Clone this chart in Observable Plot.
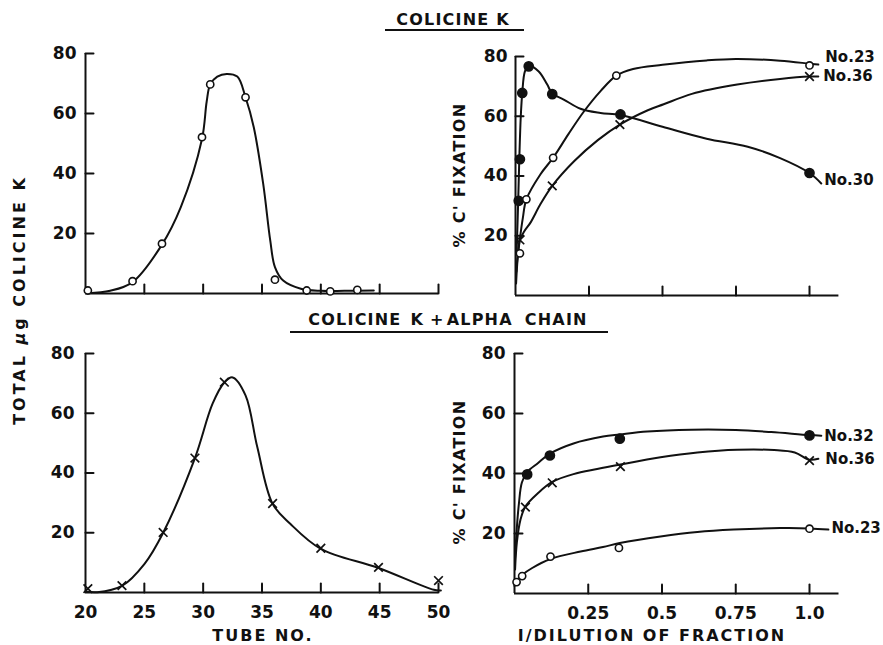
<!DOCTYPE html>
<html>
<head>
<meta charset="utf-8">
<script src="https://cdn.jsdelivr.net/npm/d3@7"></script>
<script src="https://cdn.jsdelivr.net/npm/@observablehq/plot@0.6"></script>
<style>
  html, body { margin: 0; padding: 0; background: #fff; }
  #fig { position: relative; width: 883px; height: 645px; overflow: hidden;
         font-family: "DejaVu Sans", sans-serif; font-weight: bold; color: #111; }
  #fig svg { position: absolute; left: 0; top: 0; }
  .t { position: absolute; white-space: nowrap; font-size: 16px; line-height: 1;
       transform: translate(-50%, -50%); }
  .rot { transform: translate(-50%, -50%) rotate(-90deg); }
  .ul { position: absolute; height: 2px; background: #111; }
</style>
</head>
<body>
<div id="fig">
  <div class="t" style="left:453px;top:20px;letter-spacing:1.2px;">COLICINE K</div>
  <div class="ul" style="left:385px;top:29px;width:139px;"></div>
  <div class="t" style="left:448px;top:320px;letter-spacing:1.2px;"><span>COLICINE</span><span style="margin-left:9px">K</span><span style="margin-left:6px">+</span><span style="margin-left:2px">ALPHA</span><span style="margin-left:12px">CHAIN</span></div>
  <div class="ul" style="left:290px;top:331px;width:318px;"></div>
  <div class="t rot" style="left:20px;top:300px;letter-spacing:3px;">TOTAL <span style="font-style:italic">μ</span>g COLICINE K</div>
  <div class="t rot" style="left:460px;top:175px;letter-spacing:1.3px;">% C' FIXATION</div>
  <div class="t rot" style="left:460px;top:472px;letter-spacing:1.3px;">% C' FIXATION</div>
  <div class="t" style="left:263px;top:636px;letter-spacing:2px;">TUBE NO.</div>
  <div class="t" style="left:652px;top:636px;letter-spacing:2px;">I/DILUTION OF FRACTION</div>
</div>
<script>
// ---------- axes ----------
const tubeAxis = [20, 50];
const tubeTicks = [25, 30, 35, 40, 45, 50];
const tubeTickLabels = [20, 25, 30, 35, 40, 45, 50];
const dilAxis = [0, 1.1];
const dilTicks = [0.25, 0.5, 0.75, 1.0];
const dilTickLabels = ["0.25", "0.5", "0.75", "1.0"];
const yAxis = [0, 80];
const yTicks = [20, 40, 60, 80];

// ---------- top-left: colicine K elution (open circles) ----------
const aTube = [20.2, 24.0, 26.5, 29.9, 30.6, 33.6, 36.1, 38.8, 40.8, 43.1];
const aUg   = [1.0, 4.1, 16.6, 52.1, 69.7, 65.4, 4.6, 1.0, 0.7, 1.2];
const aCurveTube = [20.2, 22.1, 24.0, 26.5, 28.1, 29.9, 30.3, 30.6, 31.2, 32.0, 32.9, 33.6, 34.3, 35.1, 35.7, 36.1, 36.8, 38.3, 40.0, 42.0, 44.5];
const aCurveUg   = [0.1, 0.9, 3.8, 16.3, 28.8, 51.5, 64.0, 69.7, 72.3, 73.2, 72.3, 65.4, 55.4, 36.6, 17.7, 8.8, 4.3, 1.6, 0.9, 0.9, 1.0];

// ---------- bottom-left: colicine K + alpha chain elution (x marks) ----------
const cTube = [20.2, 23.1, 26.6, 29.3, 31.8, 35.9, 40.0, 44.9, 50.0];
const cUg   = [1.3, 2.3, 20.1, 45.0, 70.4, 29.8, 14.8, 8.4, 4.0];
const cCurveTube = [20.0, 21.0, 23.1, 25.0, 26.6, 29.3, 30.8, 31.8, 32.5, 33.6, 34.6, 35.9, 37.4, 40.0, 44.9, 49.6, 50.2];
const cCurveUg   = [0.3, 0.1, 2.2, 9.5, 20.0, 45.0, 63.2, 70.3, 72.0, 66.0, 48.7, 29.7, 23.0, 14.6, 8.2, 0.9, 0.7];

// ---------- top-right: C' fixation, colicine K ----------
const b30Dil = [0.011, 0.015, 0.023, 0.045, 0.125, 0.357, 1.0];
const b30Fix = [31.7, 45.6, 67.8, 76.7, 67.4, 60.6, 41.0];
const b30CurveDil = [0.004, 0.009, 0.013, 0.018, 0.023, 0.032, 0.045, 0.079, 0.108, 0.125, 0.164, 0.221, 0.289, 0.357, 0.5, 0.65, 0.79, 0.9, 1.0, 1.04];
const b30CurveFix = [15, 31, 46, 60, 67.8, 75, 77, 75, 70.6, 67.6, 65.6, 62.5, 61.1, 60.4, 56.5, 52.5, 49.8, 46.0, 41.0, 37.5];

const b23Dil = [0.015, 0.037, 0.128, 0.343, 1.0];
const b23Fix = [14.1, 32.2, 46.1, 73.6, 77.0];
const b23CurveDil = [0.002, 0.007, 0.015, 0.025, 0.037, 0.085, 0.128, 0.18, 0.232, 0.29, 0.343, 0.4, 0.5, 0.65, 0.75, 0.9, 1.0, 1.03];
const b23CurveFix = [4, 12, 19, 26, 32.2, 40.6, 46.1, 54, 61.5, 68.5, 73.6, 75.8, 77.2, 78.7, 79.2, 78.6, 77.6, 77.3];

const b36Dil = [0.015, 0.125, 0.355, 1.0];
const b36Fix = [18.6, 36.7, 57.2, 73.3];
const b36CurveDil = [0.003, 0.008, 0.015, 0.03, 0.051, 0.085, 0.125, 0.2, 0.28, 0.355, 0.45, 0.504, 0.6, 0.754, 0.9, 1.0, 1.03];
const b36CurveFix = [8, 14, 18.6, 21.5, 24.4, 30.6, 36.7, 45, 52, 57.2, 62, 64, 67.5, 70.6, 72.5, 73.3, 73.3];

// ---------- bottom-right: C' fixation, colicine K + alpha chain ----------
const d32Dil = [0.043, 0.12, 0.357, 1.0];
const d32Fix = [39.7, 46.0, 51.6, 52.7];
const d32CurveDil = [0.002, 0.008, 0.015, 0.025, 0.043, 0.08, 0.12, 0.2, 0.3, 0.357, 0.45, 0.6, 0.75, 0.87, 1.0, 1.04];
const d32CurveFix = [12, 22, 30, 37, 40.5, 43.5, 46.6, 50, 52.3, 53, 54, 54.6, 54.5, 53.8, 52.8, 52.6];

const d36Dil = [0.037, 0.128, 0.359, 1.0];
const d36Fix = [28.8, 36.9, 42.3, 44.3];
const d36CurveDil = [0.002, 0.008, 0.02, 0.037, 0.08, 0.128, 0.2, 0.28, 0.359, 0.495, 0.62, 0.755, 0.88, 0.95, 1.0, 1.03];
const d36CurveFix = [8, 17, 24.5, 29, 33.5, 37.2, 39.8, 41.5, 43, 45.4, 47, 47.9, 47.8, 47.0, 44.6, 44.9];

const d23Dil = [0.007, 0.026, 0.122, 0.354, 1.0];
const d23Fix = [3.8, 5.8, 12.3, 15.2, 21.6];
const d23CurveDil = [0.0, 0.007, 0.026, 0.06, 0.122, 0.224, 0.3, 0.357, 0.495, 0.62, 0.743, 0.9, 1.0, 1.064];
const d23CurveFix = [2.5, 4.2, 6.2, 8.5, 11.5, 14.0, 15.5, 16.8, 19.0, 20.5, 21.3, 21.8, 21.7, 21.3];

const seriesNames = {b23: "No.23", b36: "No.36", b30: "No.30", d32: "No.32", d36: "No.36", d23: "No.23"};

// ---------- helpers ----------
const INK = "#111";
const zip = (xs, ys) => xs.map((x, i) => ({x, y: ys[i]}));
const tickShape = {draw(ctx, l) { ctx.moveTo(0, 0); ctx.lineTo(0, -l); }};
const style = {background: "transparent", overflow: "visible",
  fontFamily: "'DejaVu Sans', sans-serif", fontWeight: "bold", fontSize: "17px", color: INK};

function axesMarks(xAxis, xTicks, xLabels, xLabelText, gapY) {
  const marks = [
    Plot.ruleX([xAxis[0]], {y1: yAxis[0], y2: yAxis[1], stroke: INK, strokeWidth: 2}),
    Plot.ruleY([yAxis[0]], {x1: xAxis[0], x2: xAxis[1], stroke: INK, strokeWidth: 2}),
    Plot.vector(xTicks, {x: d => d, y: yAxis[0], length: 9, rotate: 0, anchor: "start", shape: tickShape, stroke: INK, strokeWidth: 2}),
    Plot.vector(yTicks, {x: xAxis[0], y: d => d, length: 8, rotate: 90, anchor: "start", shape: tickShape, stroke: INK, strokeWidth: 2}),
    Plot.text(yTicks, {x: xAxis[0], y: d => d, text: d => String(d), textAnchor: "end", dx: -gapY, fontSize: 17, fontWeight: "bold", fill: INK})
  ];
  if (xLabels) {
    marks.push(Plot.text(xLabels, {x: d => d, y: yAxis[0], text: (d, i) => xLabelText[i], lineAnchor: "top", dy: 13, fontSize: 17, fontWeight: "bold", fill: INK}));
  }
  return marks;
}
const curve = (xs, ys) => Plot.line(zip(xs, ys), {x: "x", y: "y", curve: "catmull-rom", stroke: INK, strokeWidth: 2});
const openDots = (xs, ys) => Plot.dot(zip(xs, ys), {x: "x", y: "y", r: 3.6, fill: "white", stroke: INK, strokeWidth: 1.6});
const fillDots = (xs, ys) => Plot.dot(zip(xs, ys), {x: "x", y: "y", r: 4.6, fill: INK, stroke: INK});
const timesDots = (xs, ys) => Plot.dot(zip(xs, ys), {x: "x", y: "y", r: 4, symbol: "times", stroke: INK, strokeWidth: 1.7});
const endLabel = (xs, ys, name, dx, dy) => Plot.text([{x: xs[xs.length - 1], y: ys[ys.length - 1]}],
  {x: "x", y: "y", text: () => name, textAnchor: "start", dx, dy, fontSize: 15, fontWeight: "bold", fill: INK});

const W = 883, H = 645;
const fig = document.getElementById("fig");

// top-left
fig.appendChild(Plot.plot({
  width: W, height: H, marginLeft: 85, marginRight: 445, marginTop: 53, marginBottom: 352,
  x: {domain: tubeAxis, axis: null}, y: {domain: yAxis, axis: null}, style,
  marks: [
    ...axesMarks(tubeAxis, tubeTicks, null, null, 9),
    curve(aCurveTube, aCurveUg),
    openDots(aTube, aUg)
  ]
}));

// bottom-left
fig.appendChild(Plot.plot({
  width: W, height: H, marginLeft: 85, marginRight: 445, marginTop: 353, marginBottom: 53,
  x: {domain: tubeAxis, axis: null}, y: {domain: yAxis, axis: null}, style,
  marks: [
    ...axesMarks(tubeAxis, tubeTicks, tubeTickLabels, tubeTickLabels.map(String), 11),
    curve(cCurveTube, cCurveUg),
    timesDots(cTube, cUg)
  ]
}));

// top-right
fig.appendChild(Plot.plot({
  width: W, height: H, marginLeft: 515, marginRight: 44.6, marginTop: 56, marginBottom: 350,
  x: {domain: dilAxis, axis: null}, y: {domain: yAxis, axis: null}, style,
  marks: [
    ...axesMarks(dilAxis, dilTicks, null, null, 8),
    curve(b30CurveDil, b30CurveFix),
    curve(b23CurveDil, b23CurveFix),
    curve(b36CurveDil, b36CurveFix),
    fillDots(b30Dil, b30Fix),
    openDots(b23Dil, b23Fix),
    timesDots(b36Dil, b36Fix),
    endLabel(b23CurveDil, b23CurveFix, seriesNames.b23, 7, -7),
    endLabel(b36CurveDil, b36CurveFix, seriesNames.b36, 5, 0),
    endLabel(b30CurveDil, b30CurveFix, seriesNames.b30, 3, -3)
  ]
}));

// bottom-right
fig.appendChild(Plot.plot({
  width: W, height: H, marginLeft: 514, marginRight: 44.5, marginTop: 353, marginBottom: 52,
  x: {domain: dilAxis, axis: null}, y: {domain: yAxis, axis: null}, style,
  marks: [
    ...axesMarks(dilAxis, dilTicks, dilTicks, dilTickLabels, 9),
    curve(d32CurveDil, d32CurveFix),
    curve(d36CurveDil, d36CurveFix),
    curve(d23CurveDil, d23CurveFix),
    fillDots(d32Dil, d32Fix),
    timesDots(d36Dil, d36Fix),
    openDots(d23Dil, d23Fix),
    endLabel(d32CurveDil, d32CurveFix, seriesNames.d32, 3, 0),
    endLabel(d36CurveDil, d36CurveFix, seriesNames.d36, 7, 0),
    endLabel(d23CurveDil, d23CurveFix, seriesNames.d23, 3, -1)
  ]
}));
</script>
</body>
</html>
